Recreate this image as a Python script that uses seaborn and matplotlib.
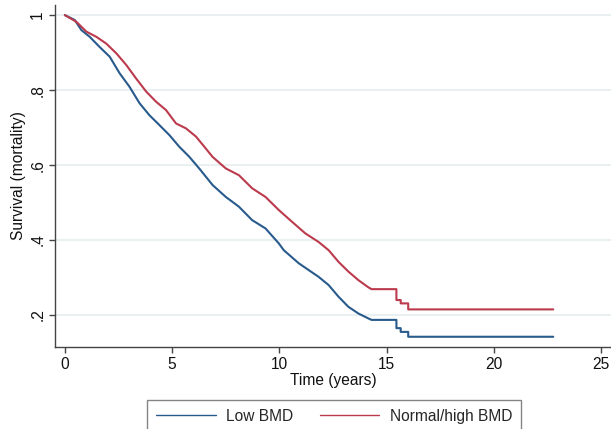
import matplotlib
matplotlib.use("Agg")
import matplotlib.pyplot as plt
import seaborn as sns
import pandas as pd
from matplotlib.lines import Line2D

# Kaplan-Meier style survival values
low_time = [0, 0.46, 0.77, 1.16, 1.62, 2.09, 2.55, 3.01, 3.48, 3.94, 4.40, 4.87,
            5.33, 5.80, 6.26, 6.88, 7.50, 8.11, 8.73, 9.35, 9.97, 10.2, 10.9,
            11.82, 12.29, 12.75, 13.21, 13.68, 14.14, 14.29, 15.45, 15.45,
            15.65, 15.65, 16.0, 16.0, 22.76]
low_surv = [1.0, 0.987, 0.96, 0.942, 0.915, 0.889, 0.845, 0.809, 0.765, 0.733,
            0.707, 0.68, 0.649, 0.622, 0.591, 0.547, 0.515, 0.489, 0.453, 0.431,
            0.391, 0.373, 0.338, 0.302, 0.28, 0.249, 0.222, 0.204, 0.191, 0.187,
            0.187, 0.165, 0.165, 0.155, 0.155, 0.142, 0.142]

norm_time = [0, 0.54, 1.0, 1.47, 1.93, 2.40, 2.86, 3.32, 3.79, 4.25, 4.71, 5.18,
             5.64, 6.11, 6.57, 6.88, 7.50, 8.11, 8.73, 9.35, 9.97, 10.58, 11.2,
             11.82, 12.29, 12.75, 13.21, 13.68, 14.14, 14.29, 15.45, 15.45,
             15.65, 15.65, 16.0, 16.0, 22.76]
norm_surv = [1.0, 0.982, 0.956, 0.942, 0.924, 0.898, 0.867, 0.831, 0.796, 0.769,
             0.747, 0.711, 0.698, 0.676, 0.644, 0.622, 0.591, 0.573, 0.538, 0.515,
             0.48, 0.449, 0.418, 0.395, 0.373, 0.342, 0.316, 0.293, 0.274, 0.269,
             0.269, 0.24, 0.24, 0.231, 0.231, 0.215, 0.215]

groups = ["Low BMD", "Normal/high BMD"]
x_ticks = [0, 5, 10, 15, 20, 25]
y_ticks = [0.2, 0.4, 0.6, 0.8, 1.0]
y_tick_labels = [".2", ".4", ".6", ".8", "1"]

df = pd.concat([
    pd.DataFrame({"time": low_time, "surv": low_surv, "group": groups[0]}),
    pd.DataFrame({"time": norm_time, "surv": norm_surv, "group": groups[1]}),
], ignore_index=True)

sns.set_style("white")
plt.rcParams["font.family"] = ["Liberation Sans", "DejaVu Sans"]
FS = 11.2

fig = plt.figure(figsize=(6.11, 4.29), dpi=100)
ax = fig.add_axes([55 / 611, 1 - 347 / 429, 1 - 55 / 611, (347 - 5) / 429])

palette = {groups[0]: "#285a8c", groups[1]: "#bb3a4c"}
sns.lineplot(data=df, x="time", y="surv", hue="group", palette=palette,
             estimator=None, sort=False, linewidth=1.5, ax=ax, legend=False)

ax.set_xlim(-0.46, 25.45)
ax.set_ylim(0.1147, 1.027)
ax.set_xticks(x_ticks)
ax.set_xticklabels([str(t) for t in x_ticks], fontsize=FS)
ax.set_yticks(y_ticks)
ax.set_yticklabels(y_tick_labels, fontsize=FS, rotation=90, va="center")
ax.yaxis.grid(True, color="#e6eff1", linewidth=1.3)
ax.xaxis.grid(False)
ax.set_axisbelow(True)

for s in ["top", "right"]:
    ax.spines[s].set_visible(False)
for s in ["left", "bottom"]:
    ax.spines[s].set_color("#444444")
    ax.spines[s].set_linewidth(1.0)
ax.tick_params(axis="both", direction="out", length=4, width=1.0,
               color="#444444", labelcolor="#111111", pad=3,
               left=True, bottom=True)

ax.set_xlabel("Time (years)", fontsize=FS, labelpad=1, color="#111111")
ax.set_ylabel("Survival (mortality)", fontsize=FS, labelpad=3, color="#111111")

handles = [Line2D([0], [0], color=palette[g], linewidth=1.0) for g in groups]
leg = fig.legend(handles, groups, loc="upper center",
                 bbox_to_anchor=(334 / 611, 1 - 400 / 429), ncol=2,
                 fontsize=FS, frameon=True, fancybox=False,
                 handlelength=3.85, handletextpad=0.65, columnspacing=1.7,
                 borderpad=0.55, borderaxespad=0)
leg.get_frame().set_edgecolor("#666666")
leg.get_frame().set_linewidth(1.0)

fig.savefig("out.png", dpi=100)
